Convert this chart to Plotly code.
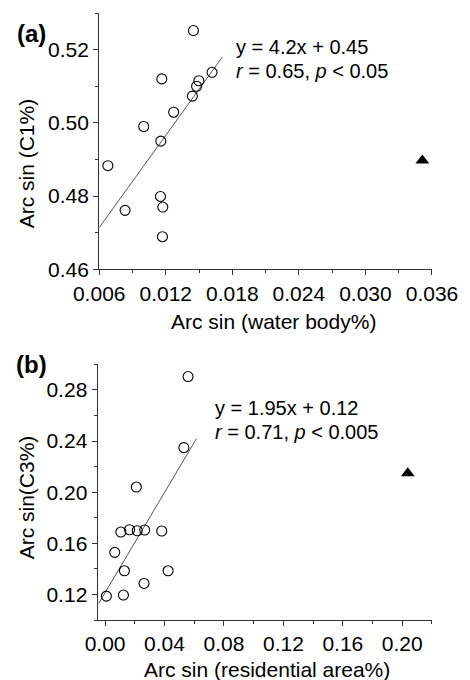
import plotly.graph_objects as go

# ---------------- data ----------------
# Panel (a): water body vs C1
a_x = [0.01449, 0.01617, 0.01498, 0.01478, 0.01440, 0.01164, 0.01271,
       0.01001, 0.01155, 0.00678, 0.00833, 0.01152, 0.01173, 0.01170]
a_y = [0.5252, 0.5138, 0.5115, 0.5100, 0.5073, 0.5120, 0.5029,
       0.4990, 0.4950, 0.4883, 0.4761, 0.4799, 0.4770, 0.4689]
a_out_x = [0.03513]
a_out_y = [0.4897]
a_fit_x = [0.0060, 0.0171]
a_fit_y = [0.4714, 0.5180]

# Panel (b): residential area vs C3
b_x = [0.05584, 0.05300, 0.02100, 0.01060, 0.01645, 0.02164, 0.02662,
       0.03810, 0.00650, 0.01299, 0.04240, 0.02620, 0.01234, 0.00087]
b_y = [0.2904, 0.2348, 0.2040, 0.1688, 0.1706, 0.1698, 0.1704,
       0.1696, 0.1529, 0.1385, 0.1385, 0.1286, 0.1195, 0.1187]
b_out_x = [0.2037]
b_out_y = [0.2147]
b_fit_x = [-0.0043, 0.0615]
b_fit_y = [0.1130, 0.2419]

# ---------------- layout geometry ----------------
W, H = 470, 680
ML, MR, MT, MB = 97, 27, 13, 60
PW = W - ML - MR
PH = H - MT - MB


def px(x):
    return (x - ML) / PW


def py(y):
    return (H - MB - y) / PH


FONT = "Liberation Sans, Arial, sans-serif"
AXC = "#333333"

fig = go.Figure()

circ = dict(symbol="circle-open", size=10, color="black", line=dict(width=1.1, color="black"))
tri = dict(symbol="triangle-up", size=12, color="black")
fitline = dict(color="#555555", width=1)

fig.add_trace(go.Scatter(x=a_fit_x, y=a_fit_y, mode="lines", line=fitline,
                         xaxis="x", yaxis="y", showlegend=False))
fig.add_trace(go.Scatter(x=a_x, y=a_y, mode="markers", marker=circ,
                         xaxis="x", yaxis="y", showlegend=False, cliponaxis=False))
fig.add_trace(go.Scatter(x=a_out_x, y=a_out_y, mode="markers", marker=tri,
                         xaxis="x", yaxis="y", showlegend=False))

fig.add_trace(go.Scatter(x=b_fit_x, y=b_fit_y, mode="lines", line=fitline,
                         xaxis="x2", yaxis="y2", showlegend=False))
fig.add_trace(go.Scatter(x=b_x, y=b_y, mode="markers", marker=circ,
                         xaxis="x2", yaxis="y2", showlegend=False, cliponaxis=False))
fig.add_trace(go.Scatter(x=b_out_x, y=b_out_y, mode="markers", marker=tri,
                         xaxis="x2", yaxis="y2", showlegend=False))

common = dict(showline=True, linecolor=AXC, linewidth=1.3, ticks="outside",
              ticklen=5, tickwidth=1.2, tickcolor=AXC, showgrid=False, zeroline=False,
              tickfont=dict(family=FONT, size=21, color="black"), tickmode="linear")

fig.update_layout(
    width=W, height=H,
    margin=dict(l=ML, r=MR, t=MT, b=MB),
    plot_bgcolor="white", paper_bgcolor="white",
    font=dict(family=FONT, color="black"),
    xaxis=dict(domain=[px(99.3), 1], anchor="y", range=[0.006, 0.036],
               tick0=0.006, dtick=0.006, tickformat=".3f",
               minor=dict(ticks="outside", ticklen=3, tickwidth=1, tickcolor=AXC,
                          tick0=0.006, dtick=0.003),
               **common),
    yaxis=dict(domain=[py(269.3), 1], anchor="x", range=[0.46, 0.53],
               tick0=0.46, dtick=0.02, tickformat=".2f",
               minor=dict(ticks="outside", ticklen=3, tickwidth=1, tickcolor=AXC,
                          tick0=0.46, dtick=0.01),
               **common),
    xaxis2=dict(domain=[px(97.7), 1], anchor="y2", range=[-0.005, 0.22],
                tick0=0.0, dtick=0.04, tickformat=".2f",
                minor=dict(ticks="outside", ticklen=3, tickwidth=1, tickcolor=AXC,
                           tick0=0.0, dtick=0.02),
                **common),
    yaxis2=dict(domain=[0, py(364.3)], anchor="x2", range=[0.10, 0.30],
                tick0=0.12, dtick=0.04, tickformat=".2f",
                minor=dict(ticks="outside", ticklen=3, tickwidth=1, tickcolor=AXC,
                           tick0=0.10, dtick=0.02),
                **common),
)

ann = []


def text(x, y, s, size=21, bold=False, angle=0, xanchor="center"):
    ann.append(dict(x=px(x), y=py(y), xref="paper", yref="paper", text=s,
                    showarrow=False, textangle=angle, xanchor=xanchor, yanchor="middle",
                    font=dict(family=FONT, size=size, color="black",
                              weight="bold" if bold else "normal")))


text(29, 33, "(a)", size=24, bold=True)
text(29, 364, "(b)", size=24, bold=True)

text(238, 47, "y = 4.2x + 0.45", size=20, xanchor="left")
text(238, 71, "<i>r</i> = 0.65, <i>p</i> &lt; 0.05", size=20, xanchor="left")
text(217, 408, "y = 1.95x + 0.12", size=20, xanchor="left")
text(217, 432, "<i>r</i> = 0.71, <i>p</i> &lt; 0.005", size=20, xanchor="left")

text(279.5, 321.5, "Arc sin (water body%)")
text(273, 669, "Arc sin (residential area%)")
text(24, 163, "Arc sin (C1%)", angle=-90)
text(24, 497, "Arc sin(C3%)", angle=-90)

fig.update_layout(annotations=ann)

fig.write_html("out.html")
